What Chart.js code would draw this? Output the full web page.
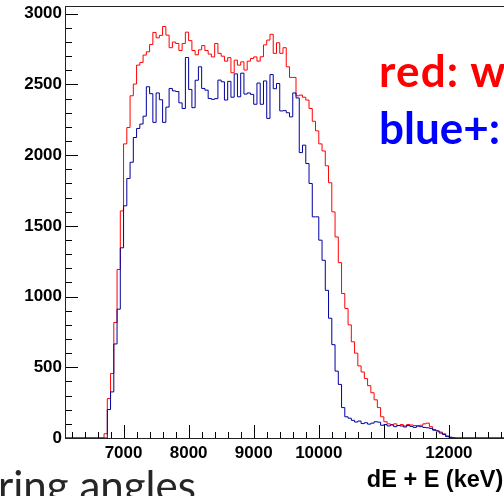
<!DOCTYPE html>
<html><head><meta charset="utf-8">
<script src="https://cdn.jsdelivr.net/npm/chart.js@4"></script>
<style>
html,body{margin:0;padding:0;width:504px;height:496px;overflow:hidden;background:#fff;}
#wrap{position:relative;width:504px;height:496px;overflow:hidden;}
#c{position:absolute;left:0;top:0;}
.t{position:absolute;white-space:nowrap;line-height:1;}
#legRed{left:379px;top:48px;font-family:Lato;font-weight:bold;font-size:44px;color:#ff0000;letter-spacing:1.2px;}
#legBlue{left:379px;top:105px;font-family:Lato;font-weight:bold;font-size:44px;color:#0000ff;}
#slide{left:-2px;top:464px;font-family:Lato;font-size:42px;color:#262626;}
#xtitle{right:0.7px;top:468px;font-family:"Liberation Sans";font-weight:bold;font-size:23.5px;color:#000;}
</style>
</head><body>
<div id="wrap">
<canvas id="c" width="530" height="496"></canvas>
<div class="t" id="legRed">red: w</div>
<div class="t" id="legBlue">blue+:</div>
<div class="t" id="xtitle">dE + E (keV)</div>
<div class="t" id="slide">ring angles</div>
</div>
<script>
// histogram binning (keV)
const binStart = 6700;
const binWidth = 50;
// counts per 50 keV bin, starting at 6700 keV
const redCounts = [
  0, 30, 279, 456, 817, 1192, 1606, 2080, 2196, 2420,
  2503, 2637, 2656, 2708, 2731, 2783, 2868, 2830, 2847, 2910,
  2849, 2760, 2800, 2790, 2740, 2790, 2870, 2810, 2740, 2710,
  2745, 2775, 2740, 2715, 2695, 2790, 2720, 2700, 2665, 2690,
  2583, 2672, 2637, 2660, 2602, 2665, 2684, 2695, 2665, 2696,
  2780, 2814, 2855, 2720, 2795, 2720, 2760, 2625, 2550, 2550,
  2420, 2425, 2410, 2390, 2330, 2240, 2172, 2080, 2030, 1925,
  1805, 1599, 1422, 1240, 1022, 916, 800, 680, 600, 510,
  467, 420, 370, 320, 270, 215, 150, 115, 100, 95,
  100, 88, 95, 85, 95, 92, 88, 85, 90, 100,
  105, 80, 60, 50, 42, 30, 15, 5, 3, 0
];
const blueCounts = [
  0, 0, 201, 326, 665, 911, 1345, 1642, 1835, 1950,
  2125, 2189, 2220, 2276, 2484, 2435, 2232, 2440, 2392, 2232,
  2340, 2472, 2455, 2450, 2370, 2330, 2691, 2465, 2336, 2530,
  2625, 2472, 2460, 2401, 2395, 2400, 2531, 2519, 2390, 2522,
  2410, 2575, 2413, 2580, 2432, 2440, 2430, 2360, 2510, 2360,
  2525, 2260, 2570, 2470, 2507, 2313, 2315, 2300, 2271, 2440,
  2405, 2018, 2071, 1941, 1800, 1564, 1564, 1399, 1257, 1044,
  847, 660, 473, 379, 215, 150, 140, 125, 113, 120,
  102, 108, 98, 105, 115, 112, 90, 95, 85, 92,
  80, 88, 85, 78, 88, 82, 75, 85, 80, 75,
  72, 68, 55, 50, 35, 25, 10, 5, 0, 0
];
const xRange = [6100, 13000];
const yRange = [0, 3055];
const xTickLabels = [7000, 8000, 9000, 10000, 12000];
const yTickLabels = [0, 500, 1000, 1500, 2000, 2500, 3000];

function histPoints(counts) {
  const pts = [{x: xRange[0], y: 0}];
  counts.forEach((c, i) => pts.push({x: binStart + i * binWidth, y: c}));
  pts.push({x: binStart + counts.length * binWidth, y: 0});
  pts.push({x: xRange[1], y: 0});
  return pts;
}

const rootFrame = {
  id: 'rootFrame',
  afterDatasetsDraw(chart) {
    const {ctx, chartArea: a, scales: {x, y}} = chart;
    ctx.save();
    ctx.strokeStyle = '#000';
    ctx.lineWidth = 1;
    ctx.beginPath();
    for (let v = 0; v <= 3000; v += 100) {
      const py = Math.round(y.getPixelForValue(v)) + 0.5;
      const len = v % 500 === 0 ? 13 : 7;
      ctx.moveTo(a.left, py); ctx.lineTo(a.left + len, py);
    }
    for (let v = 6200; v <= 13000; v += 200) {
      const px = Math.round(x.getPixelForValue(v)) + 0.5;
      const len = v % 1000 === 0 ? 13 : 6;
      ctx.moveTo(px, a.bottom); ctx.lineTo(px, a.bottom - len);
    }
    ctx.stroke();
    ctx.strokeStyle = '#222';
    ctx.strokeRect(Math.round(a.left) + 0.5, Math.round(a.top) + 0.5,
                   Math.round(a.right - a.left), Math.round(a.bottom - a.top));
    ctx.restore();
  }
};

const tickFont = {family: '"Liberation Sans", Arial, sans-serif', size: 17, weight: 'bold'};

new Chart(document.getElementById('c'), {
  type: 'line',
  data: {
    datasets: [
      {label: 'blue', data: histPoints(blueCounts), borderColor: '#0000a0', borderWidth: 1,
       pointRadius: 0, stepped: 'after', fill: false, order: 0},
      {label: 'red', data: histPoints(redCounts), borderColor: '#ff0000', borderWidth: 1,
       pointRadius: 0, stepped: 'after', fill: false, order: 1}
    ]
  },
  options: {
    responsive: false,
    animation: false,
    events: [],
    layout: {padding: {top: 6, right: 16, left: 0, bottom: 0}},
    plugins: {legend: {display: false}, tooltip: {enabled: false}},
    scales: {
      x: {
        type: 'linear', min: xRange[0], max: xRange[1],
        grid: {display: false, drawTicks: false},
        border: {display: false},
        afterBuildTicks(s) { s.ticks = xTickLabels.map(v => ({value: v})); },
        afterFit(s) { s.height = 58; s.paddingLeft = 0; s.paddingRight = 0; },
        ticks: {font: tickFont, color: '#000', padding: 5, maxRotation: 0, autoSkip: false,
                callback: v => String(v)}
      },
      y: {
        min: yRange[0], max: yRange[1],
        grid: {display: false, drawTicks: false},
        border: {display: false},
        afterBuildTicks(s) { s.ticks = yTickLabels.map(v => ({value: v})); },
        afterFit(s) { s.width = 65; s.paddingTop = 0; s.paddingBottom = 0; },
        ticks: {font: tickFont, color: '#000', padding: 3, autoSkip: false,
                callback: v => String(v)}
      }
    }
  },
  plugins: [rootFrame]
});
</script>
</body></html>
